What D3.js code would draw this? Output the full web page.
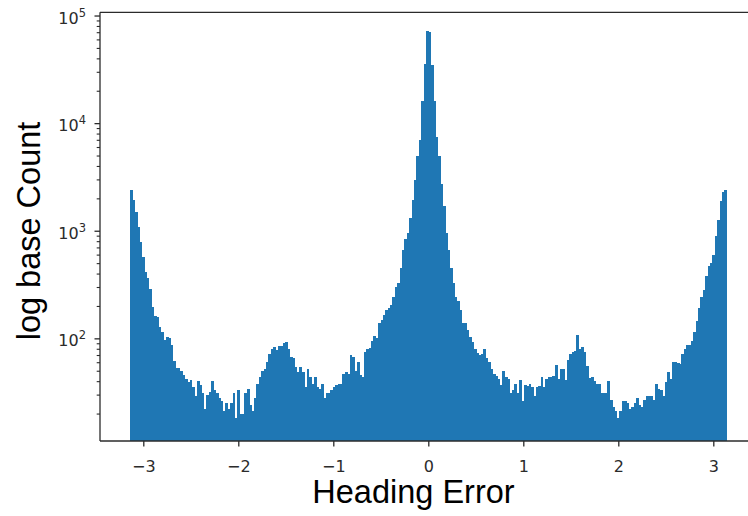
<!DOCTYPE html>
<html>
<head>
<meta charset="utf-8">
<script src="https://cdn.jsdelivr.net/npm/d3@7/dist/d3.min.js"></script>
<style>
  body { margin: 0; background: #fff; }
  svg { display: block; }
</style>
</head>
<body>
<svg id="chart" width="748" height="516"></svg>
<script>
// Histogram of heading error (radians), 250 equal bins over [-pi, pi], log-scaled counts
const binCount = 250;
const counts = [
  2380, 1950, 1480, 1080, 780, 575, 410, 360, 290, 195,
  160, 158, 128, 115, 96, 104, 100, 86, 62, 53,
  53, 50, 46, 42, 39, 41, 35, 29, 40, 37,
  31, 22, 30, 32, 40, 33, 31, 28, 26, 21,
  25, 22, 25, 31, 18, 33, 20, 20, 31, 34,
  24, 21, 28, 38, 44, 50, 52, 60, 72, 80,
  83, 78, 84, 85, 90, 93, 80, 67, 65, 54,
  49, 54, 49, 35, 52, 44, 38, 44, 35, 34,
  38, 28, 31, 31, 33, 35, 37, 38, 38, 47,
  49, 47, 70, 67, 50, 60, 46, 44, 75, 80,
  81, 95, 105, 100, 139, 147, 165, 184, 190, 205,
  244, 300, 325, 449, 665, 830, 952, 1313, 1945, 2985,
  4900, 7000, 16000, 35800, 72000, 71000, 35000, 16000, 7500, 4900,
  2700, 1700, 950, 665, 449, 325, 244, 220, 184, 139,
  139, 120, 103, 92, 80, 73, 70, 72, 80, 65,
  60, 52, 47, 45, 42, 37, 50, 44, 42, 31,
  33, 38, 31, 41, 26, 37, 36, 38, 35, 29,
  35, 36, 44, 35, 42, 44, 44, 45, 56, 42,
  52, 52, 41, 63, 72, 75, 77, 107, 80, 83,
  75, 55, 43, 44, 40, 38, 38, 31, 31, 31,
  40, 27, 23, 21, 18, 21, 26, 26, 25, 22,
  23, 25, 28, 24, 23, 27, 29, 29, 29, 27,
  38, 34, 33, 29, 39, 49, 42, 60, 60, 59,
  58, 72, 80, 87, 87, 95, 115, 145, 190, 240,
  280, 380, 470, 500, 600, 900, 1250, 1900, 2300, 2380
];
const xTickValues = [-3, -2, -1, 0, 1, 2, 3];
const yTickExponents = [2, 3, 4, 5];
const xAxisTitle = "Heading Error";
const yAxisTitle = "log base Count";

const svg = d3.select("#chart");
const plot = { left: 100, right: 756.6, top: 12.3, bottom: 441 };
const ink = "#2b2b2b";
const barColor = "#1f77b4";

const x = d3.scaleLinear()
  .domain([-1.1 * Math.PI, 1.1 * Math.PI])
  .range([plot.left, plot.right]);
const y = d3.scaleLog()
  .domain([Math.pow(10, 1.046), Math.pow(10, 5.030)])
  .range([plot.bottom, plot.top]);

const binWidth = 2 * Math.PI / binCount;
const bins = counts.map((c, i) => ({ x0: -Math.PI + i * binWidth, x1: -Math.PI + (i + 1) * binWidth, count: c }));

svg.append("defs").append("clipPath").attr("id", "plot-area")
  .append("rect")
  .attr("x", plot.left).attr("y", plot.top)
  .attr("width", plot.right - plot.left).attr("height", plot.bottom - plot.top);

svg.append("g")
  .attr("clip-path", "url(#plot-area)")
  .attr("shape-rendering", "crispEdges")
  .selectAll("rect")
  .data(bins)
  .join("rect")
  .attr("x", d => x(d.x0))
  .attr("width", d => x(d.x1) - x(d.x0) + 0.5)
  .attr("y", d => y(d.count))
  .attr("height", d => plot.bottom - y(d.count))
  .attr("fill", barColor);

// Spines (the right spine lies beyond the visible canvas)
const spines = svg.append("g").attr("stroke", ink).attr("stroke-width", 1.3).attr("fill", "none");
spines.append("line").attr("x1", plot.left).attr("x2", plot.left).attr("y1", plot.top).attr("y2", plot.bottom);
spines.append("line").attr("x1", plot.left).attr("x2", plot.right).attr("y1", plot.bottom).attr("y2", plot.bottom);
spines.append("line").attr("x1", plot.left).attr("x2", plot.right).attr("y1", plot.top).attr("y2", plot.top);
spines.append("line").attr("x1", plot.right).attr("x2", plot.right).attr("y1", plot.top).attr("y2", plot.bottom);

// X axis
const xAxis = svg.append("g")
  .attr("transform", `translate(0,${plot.bottom})`)
  .call(d3.axisBottom(x)
    .tickValues(xTickValues)
    .tickSize(5.5)
    .tickSizeOuter(0)
    .tickFormat(d => (d < 0 ? "\u2212" + Math.abs(d) : String(d))));
xAxis.select(".domain").remove();
xAxis.selectAll(".tick line").attr("stroke", ink).attr("stroke-width", 1.3);
xAxis.selectAll(".tick text")
  .attr("fill", ink)
  .attr("font-family", "DejaVu Sans")
  .attr("font-size", 16)
  .attr("y", 30.6)
  .attr("dy", null);

// Y axis: major decades plus minor ticks at 2..9 x 10^k
const majorTicks = yTickExponents.map(e => Math.pow(10, e));
const minorTicks = [];
for (let e = 1; e <= 4; e++) for (let m = 2; m <= 9; m++) {
  const v = m * Math.pow(10, e);
  if (v >= y.domain()[0] && v <= y.domain()[1]) minorTicks.push(v);
}
const yMinor = svg.append("g")
  .attr("transform", `translate(${plot.left},0)`)
  .call(d3.axisLeft(y).tickValues(minorTicks).tickSize(3.3).tickFormat(""));
yMinor.select(".domain").remove();
yMinor.selectAll(".tick line").attr("stroke", ink).attr("stroke-width", 1.1);

const yMajor = svg.append("g")
  .attr("transform", `translate(${plot.left},0)`)
  .call(d3.axisLeft(y).tickValues(majorTicks).tickSize(5.5).tickFormat(""));
yMajor.select(".domain").remove();
yMajor.selectAll(".tick line").attr("stroke", ink).attr("stroke-width", 1.3);
yMajor.selectAll(".tick").each(function (d) {
  const t = d3.select(this).append("text")
    .attr("x", -14)
    .attr("y", 7.5)
    .attr("text-anchor", "end")
    .attr("fill", ink)
    .attr("font-family", "DejaVu Sans")
    .attr("font-size", 16);
  t.append("tspan").text("10");
  t.append("tspan").attr("font-size", 11.5).attr("dy", -7).text(String(Math.round(Math.log10(d))));
});

// Axis titles
svg.append("text")
  .attr("x", 413.5).attr("y", 503)
  .attr("text-anchor", "middle")
  .attr("font-family", "Liberation Sans, Arial, sans-serif")
  .attr("font-size", 32.5)
  .attr("fill", "#000")
  .text(xAxisTitle);

svg.append("text")
  .attr("transform", "translate(39.5,231) rotate(-90)")
  .attr("text-anchor", "middle")
  .attr("font-family", "Liberation Sans, Arial, sans-serif")
  .attr("font-size", 32.5)
  .attr("fill", "#000")
  .text(yAxisTitle);
</script>
</body>
</html>
